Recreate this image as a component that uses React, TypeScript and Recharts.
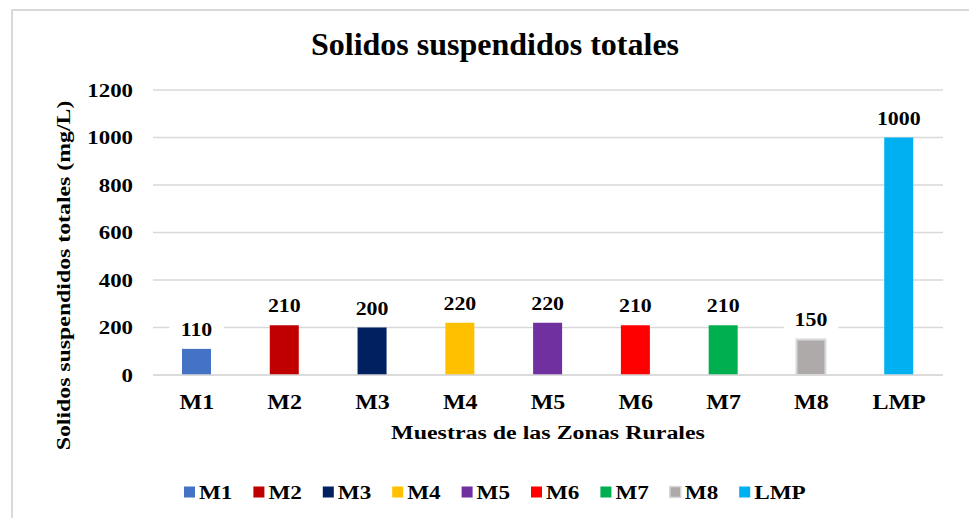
import React from 'react';
import { BarChart, Bar, XAxis, YAxis, CartesianGrid, Cell, LabelList, Legend, Label } from 'recharts';

const categories = ['M1', 'M2', 'M3', 'M4', 'M5', 'M6', 'M7', 'M8', 'LMP'];
const values = [110, 210, 200, 220, 220, 210, 210, 150, 1000];
const colors = ['#4472C4', '#C00000', '#002060', '#FFC000', '#7030A0', '#FF0000', '#00B050', '#AEAAAA', '#00B0F0'];
const strokes = ['none', 'none', 'none', 'none', 'none', 'none', 'none', '#D9D9D9', 'none'];
const yTicks = [0, 200, 400, 600, 800, 1000, 1200];
const title = 'Solidos suspendidos totales';
const yAxisTitle = 'Solidos suspendidos totales (mg/L)';
const xAxisTitle = 'Muestras de las Zonas Rurales';

const data = categories.map((name, i) => ({ name, value: values[i] }));

const FONT = "'Liberation Serif', 'Times New Roman', serif";
const GRID = '#D9D9D9';

const XTick = (props: any) => {
  const { x, y, payload } = props;
  return (
    <text
      transform={`translate(${x},${y + 34}) scale(1.2,1)`}
      textAnchor="middle"
      fontFamily={FONT}
      fontWeight="bold"
      fontSize={20}
      fill="#000"
    >
      {payload.value}
    </text>
  );
};

const YTick = (props: any) => {
  const { x, y, payload } = props;
  return (
    <text
      transform={`translate(${x - 20},${y + 6.5}) scale(1.27,1)`}
      textAnchor="end"
      fontFamily={FONT}
      fontWeight="bold"
      fontSize={18}
      fill="#000"
    >
      {payload.value}
    </text>
  );
};

const ValueLabel = (props: any) => {
  const { x, y, width, value } = props;
  const cx = x + width / 2;
  const n = String(value).length;
  const w = n * 10.8 + 22;
  return (
    <g>
      <rect x={cx - w / 2} y={y - 31} width={w} height={24} fill="#fff" />
      <text
        transform={`translate(${cx},${y - 13})} scale(1.15,1)`.replace('}', '')}
        textAnchor="middle"
        fontFamily={FONT}
        fontWeight="bold"
        fontSize={19}
        fill="#000"
      >
        {value}
      </text>
    </g>
  );
};

const YTitle = (props: any) => {
  const { viewBox } = props;
  const cy = viewBox.y + viewBox.height / 2 + 43;
  return (
    <text
      transform={`translate(70,${cy}) rotate(-90) scale(1.22,1)`}
      textAnchor="middle"
      fontFamily={FONT}
      fontWeight="bold"
      fontSize={19.5}
      fill="#000"
    >
      {yAxisTitle}
    </text>
  );
};

const XTitle = (props: any) => {
  const { viewBox } = props;
  const cx = viewBox.x + viewBox.width / 2;
  return (
    <text
      transform={`translate(${cx},${viewBox.y + 64}) scale(1.26,1)`}
      textAnchor="middle"
      fontFamily={FONT}
      fontWeight="bold"
      fontSize={19}
      fill="#000"
    >
      {xAxisTitle}
    </text>
  );
};

const LegendContent = () => (
  <svg width={969} height={30}>
    {categories.map((c, i) => {
      const x0 = 184 + i * 69.4;
      return (
        <g key={c}>
          <rect x={x0} y={8.5} width={11} height={11} fill={colors[i]} stroke={strokes[i] === 'none' ? 'none' : strokes[i]} strokeWidth={1.5} />
          <text
            transform={`translate(${x0 + 15},20.5) scale(1.22,1)`}
            fontFamily={FONT}
            fontWeight="bold"
            fontSize={19}
            fill="#000"
          >
            {c}
          </text>
        </g>
      );
    })}
  </svg>
);

export default function App() {
  return (
    <div style={{ position: 'absolute', left: 0, top: 0, width: 969, height: 518, overflow: 'hidden', background: '#fff' }}>
      <svg width={969} height={518} style={{ position: 'absolute', left: 0, top: 0 }}>
        <rect x={12} y={10} width={1000} height={600} fill="#fff" stroke={GRID} strokeWidth={2} />
        <text x={495} y={55} textAnchor="middle" fontFamily={FONT} fontWeight="bold" fontSize={32} fill="#000">
          {title}
        </text>
      </svg>
      <div style={{ position: 'absolute', left: 0, top: 0 }}>
        <BarChart width={969} height={518} data={data} margin={{ top: 90, right: 26, bottom: 113, left: 0 }}>
          <CartesianGrid vertical={false} stroke={GRID} strokeWidth={1.5} />
          <XAxis
            dataKey="name"
            height={30}
            tickLine={false}
            tickSize={0}
            tickMargin={0}
            axisLine={{ stroke: GRID, strokeWidth: 1.5 }}
            tick={<XTick />}
            interval={0}
          >
            <Label content={<XTitle />} />
          </XAxis>
          <YAxis
            width={153}
            domain={[0, 1200]}
            ticks={yTicks}
            axisLine={false}
            tickLine={false}
            tickSize={0}
            tickMargin={0}
            tick={<YTick />}
            interval={0}
          >
            <Label content={<YTitle />} />
          </YAxis>
          <Legend
            layout="horizontal"
            verticalAlign="middle"
            align="center"
            content={<LegendContent />}
            wrapperStyle={{ top: 478, left: 0, width: 969, height: 30 }}
          />
          <Bar dataKey="value" barSize={29} isAnimationActive={false}>
            {data.map((d, i) => (
              <Cell key={d.name} fill={colors[i]} stroke={strokes[i]} strokeWidth={2} />
            ))}
            <LabelList dataKey="value" content={<ValueLabel />} />
          </Bar>
        </BarChart>
      </div>
    </div>
  );
}
